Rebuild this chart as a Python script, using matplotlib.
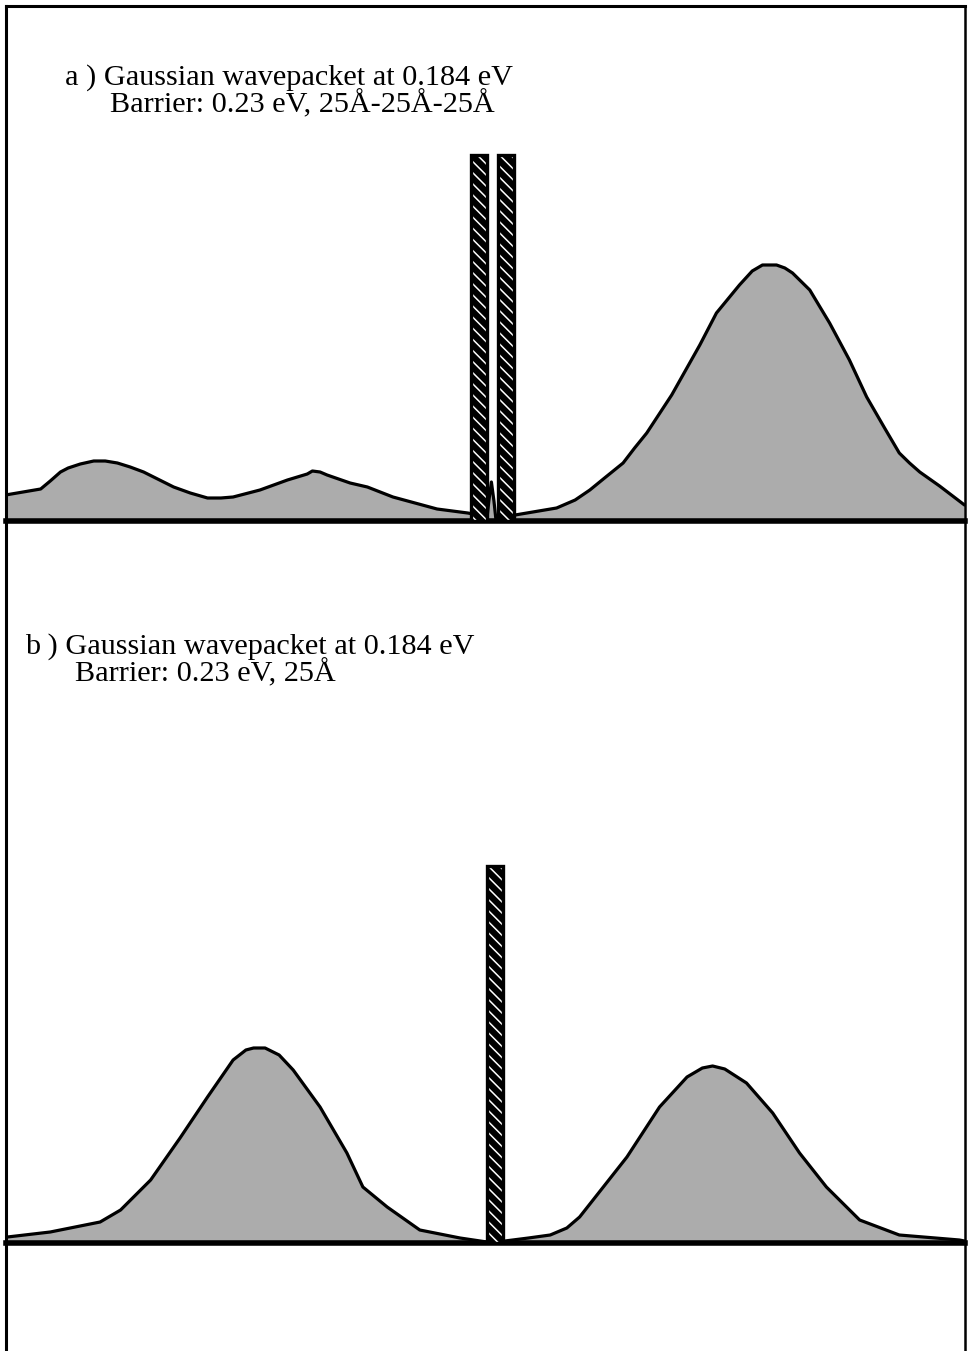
import matplotlib
matplotlib.use("Agg")
import matplotlib.pyplot as plt

# ---- data -------------------------------------------------------------
# position along the structure (Angstrom) and |psi|^2 (arbitrary units)

# a) double barrier, 25A-25A-25A
x_a = [0, 55, 70, 86, 98, 117, 138, 156, 175, 195, 216, 263, 289, 316,
       337, 356, 398, 441, 472, 480, 492, 503, 539, 566, 606, 675, 723,
       740, 753, 756, 760, 764, 767, 780, 797, 862, 891, 914, 937, 966,
       984, 1003, 1042, 1086, 1112, 1148, 1168, 1184, 1206, 1219, 1231,
       1258, 1273, 1289, 1320, 1347, 1375, 1398, 1414, 1430, 1461, 1500]
psi_a = [26, 32, 40, 49, 53, 57, 60, 60, 58, 54, 49, 34, 28, 23,
         23, 24, 31, 41, 47, 50, 49, 46, 38, 34, 24, 12, 8,
         6, 2, 20, 39, 20, 2, 4, 6, 13, 21, 31, 43, 58,
         73, 88, 126, 176, 208, 236, 250, 256, 256, 253, 248,
         231, 215, 198, 161, 124, 93, 68, 58, 49, 35, 16]
barrier_left_a = [728, 770]
barrier_width_a = [25, 25]
barrier_height_a = [366, 366]

# b) single barrier, 25A
x_b = [3, 70, 148, 180, 227, 273, 316, 356, 376, 388, 406, 428, 450, 492,
       534, 559, 597, 648, 711, 753, 781, 818, 852, 878, 898, 919, 972,
       1023, 1066, 1090, 1106, 1125, 1159, 1200, 1242, 1284, 1336, 1398,
       1492, 1500]
psi_b = [6, 11, 21, 33, 63, 105, 146, 183, 193, 195, 195, 188, 173, 136,
         90, 56, 36, 13, 5, 1, 2, 5, 8, 15, 26, 43, 86,
         136, 166, 175, 177, 174, 160, 130, 90, 56, 23, 8,
         3, 2]
barrier_left_b = [753]
barrier_width_b = [25]
barrier_height_b = [377]

title_a = ["a ) Gaussian wavepacket at 0.184 eV",
           "Barrier: 0.23 eV, 25\u00c5-25\u00c5-25\u00c5"]
title_b = ["b ) Gaussian wavepacket at 0.184 eV",
           "Barrier: 0.23 eV, 25\u00c5"]

# ---- layout -----------------------------------------------------------
W, H = 969, 1351
fig = plt.figure(figsize=(W / 100, H / 100), dpi=100)
fig.patch.set_facecolor("white")

X0, X1 = 5.5, 964.5          # frame left/right (px)
Y_TOP, Y_A, Y_B = 5.5, 521, 1243


def make_axes(y_top, y_bot):
    return fig.add_axes([X0 / W, 1 - y_bot / H, (X1 - X0) / W,
                         (y_bot - y_top) / H])


FILL = "#acacac"
CURVE_LW = 2.3
BASE_LW = 4.0


def draw_panel(ax, x, psi, lefts, widths, heights, top_spine):
    ax.set_xlim(0, 1500)
    ax.fill_between(x, 0, psi, facecolor=FILL, edgecolor="none", zorder=1)
    ax.plot(x, psi, color="black", lw=CURVE_LW, zorder=2,
            solid_joinstyle="round", solid_capstyle="round")
    # barrier: black body with white diagonal stripes, black outline
    ax.bar(lefts, heights, widths, align="edge", color="black",
           edgecolor="white", hatch="\\\\\\", linewidth=0, zorder=3)
    ax.bar(lefts, heights, widths, align="edge", fill=False,
           edgecolor="black", linewidth=2.4, zorder=4)
    ax.set_xticks([])
    ax.set_yticks([])
    for side in ("left", "right", "top", "bottom"):
        ax.spines[side].set_color("black")
    ax.spines["left"].set_linewidth(2.2)
    ax.spines["right"].set_linewidth(1.8)
    ax.spines["bottom"].set_linewidth(BASE_LW)
    ax.spines["top"].set_linewidth(2.2)
    ax.spines["top"].set_visible(top_spine)
    ax.patch.set_alpha(0)


plt.rcParams["hatch.linewidth"] = 1.1

ax_a = make_axes(Y_TOP, Y_A)
ax_a.set_ylim(0, Y_A - Y_TOP)
draw_panel(ax_a, x_a, psi_a, barrier_left_a, barrier_width_a,
           barrier_height_a, True)

ax_b = make_axes(Y_A, Y_B)
ax_b.set_ylim(0, Y_B - Y_A)
draw_panel(ax_b, x_b, psi_b, barrier_left_b, barrier_width_b,
           barrier_height_b, False)

# empty lower frame continuing past the second panel
ax_c = make_axes(Y_B, H + 5)
ax_c.set_xticks([])
ax_c.set_yticks([])
ax_c.spines["top"].set_visible(False)
ax_c.spines["bottom"].set_visible(False)
ax_c.spines["left"].set_linewidth(2.2)
ax_c.spines["right"].set_linewidth(1.8)
ax_c.patch.set_alpha(0)

# ---- annotations ------------------------------------------------------
FONT = dict(family="Liberation Serif", size=21.8, color="black")
fig.text(65 / W, 1 - 85 / H, title_a[0], va="baseline", **FONT)
fig.text(110 / W, 1 - 112 / H, title_a[1], va="baseline", **FONT)
fig.text(25 / W, 1 - 654 / H, title_b[0], va="baseline", **FONT)
fig.text(75 / W, 1 - 681 / H, title_b[1], va="baseline", **FONT)

fig.savefig("out.png", dpi=100, facecolor="white")
